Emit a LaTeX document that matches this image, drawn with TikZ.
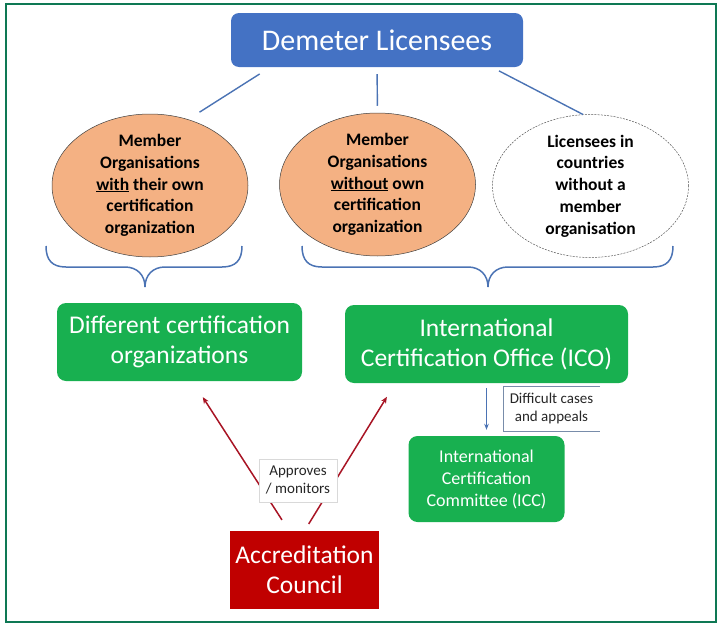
\documentclass[tikz,border=0pt]{standalone}
\usepackage{fontspec}
\setmainfont{Carlito}
\usepackage{tikz}
\usetikzlibrary{shapes.geometric, arrows.meta}

\definecolor{framegreen}{RGB}{14,120,84}
\definecolor{demblue}{RGB}{68,114,196}
\definecolor{linkblue}{RGB}{75,115,180}
\definecolor{boxgreen}{RGB}{24,176,80}
\definecolor{peach}{RGB}{244,177,131}
\definecolor{accred}{RGB}{192,0,0}
\definecolor{arrowred}{RGB}{168,20,36}
\definecolor{tagline}{RGB}{120,140,170}

\begin{document}
\begin{tikzpicture}[x=1pt, y=-1pt,
		box/.style={rounded corners=9pt, text=white, align=center, inner sep=0pt,
			font=\fontsize{25.5}{30}\selectfont},
		greenbox/.style={box, fill=boxgreen, minimum height=78pt},
		bubble/.style={ellipse, draw=black!75, line width=0.5pt, align=center, inner sep=-12pt,
			minimum width=196pt, minimum height=143pt, font=\fontsize{17.5}{21.7}\selectfont\bfseries},
		tag/.style={align=center, inner sep=0pt, text=black!85, font=\fontsize{15}{18}\selectfont},
		link/.style={draw=linkblue, line width=1.4pt},
		curly/.style={draw=linkblue, line width=1.5pt},
		approve/.style={-{Stealth[length=6.5pt,width=5.5pt]}, draw=arrowred, line width=1.5pt}]
				\useasboundingbox (0,0) rectangle (718,624);
				\draw[framegreen, line width=2pt] (6,4) rectangle (716,622);
				
				\node[box, fill=demblue, rounded corners=8pt, minimum width=292pt, minimum height=54pt,
					font=\fontsize{30}{36}\selectfont] at (377,40) (demeter) {Demeter Licensees};
				
				\node[bubble, fill=peach] at (150,185.5) (mo1) {Member\\Organisations\\\underline{with} their own\\certification\\organization};
				\node[bubble, fill=peach] at (377.5,184.5) (mo2) {Member\\Organisations\\\underline{without} own\\certification\\organization};
				\node[bubble, fill=white, draw=black!65, dash pattern=on 2pt off 1.2pt] at (590.5,186) (mo3) {Licensees in\\countries\\without a\\member\\organisation};
				
				\draw[link, shorten <=12.6pt, shorten >=13.4pt] ([xshift=39.5pt]demeter.south west) -- (mo1.60);
				\draw[link, shorten <=7pt, shorten >=7pt] (demeter.south) -- (mo2.north);
				\draw[link, shorten <=8pt] ([xshift=-31.3pt]demeter.south east) -- (mo3.96);
				
				% braces under the bubbles
				\draw[curly] (46,246) .. controls (46,260) and (52,267) .. (66,267) -- (125,267)
					.. controls (137,267) and (145,275) .. (145,287)
					.. controls (145,275) and (153,267) .. (165,267) -- (222,267)
					.. controls (236,267) and (242,260) .. (242,246);
				\draw[curly] (302,246) .. controls (302,260) and (308,267) .. (322,267) -- (468,267)
					.. controls (480,267) and (488,275) .. (488,287)
					.. controls (488,275) and (496,267) .. (508,267) -- (653,267)
					.. controls (667,267) and (673,260) .. (673,246);
				
				\node[greenbox, minimum width=245pt] at (179.5,342) (dco) {Different certification\\organizations};
				\node[greenbox, minimum width=283pt] at (486.5,344) (ico) {International\\Certification Office (ICO)};
				\node[greenbox, minimum width=156pt, minimum height=86pt,
					font=\fontsize{18}{22}\selectfont] at (486.5,479) (icc) {International\\Certification\\Committee (ICC)};
				\node[box, rounded corners=0pt, fill=accred, minimum width=149pt, minimum height=78pt] at (304.5,570) (acc) {Accreditation\\Council};
				
				\draw[approve, shorten <=13pt, shorten >=19pt] ([xshift=-15.5pt]acc.north) -- ([xshift=13pt]dco.south);
				\draw[approve, shorten <=8pt, shorten >=16pt] (acc.north) -- ([xshift=50.5pt]ico.south west);
				\node[tag, draw=black!15, fill=white, minimum width=78pt, minimum height=43pt] at (298,480.5) (appr) {Approves\\/ monitors};
				
				\draw[-{Stealth[length=6pt,width=4.5pt]}, draw=linkblue, line width=1pt, shorten <=5pt, shorten >=6pt] (ico.south) -- (icc.north);
				\node[tag, minimum width=97pt, minimum height=45pt] at (551.5,408.5) (diff) {Difficult cases\\and appeals};
				\draw[tagline, line width=0.6pt] (diff.north east) -- (diff.north west) -- (diff.south west) -- (diff.south east);
			\end{tikzpicture}
\end{document}
